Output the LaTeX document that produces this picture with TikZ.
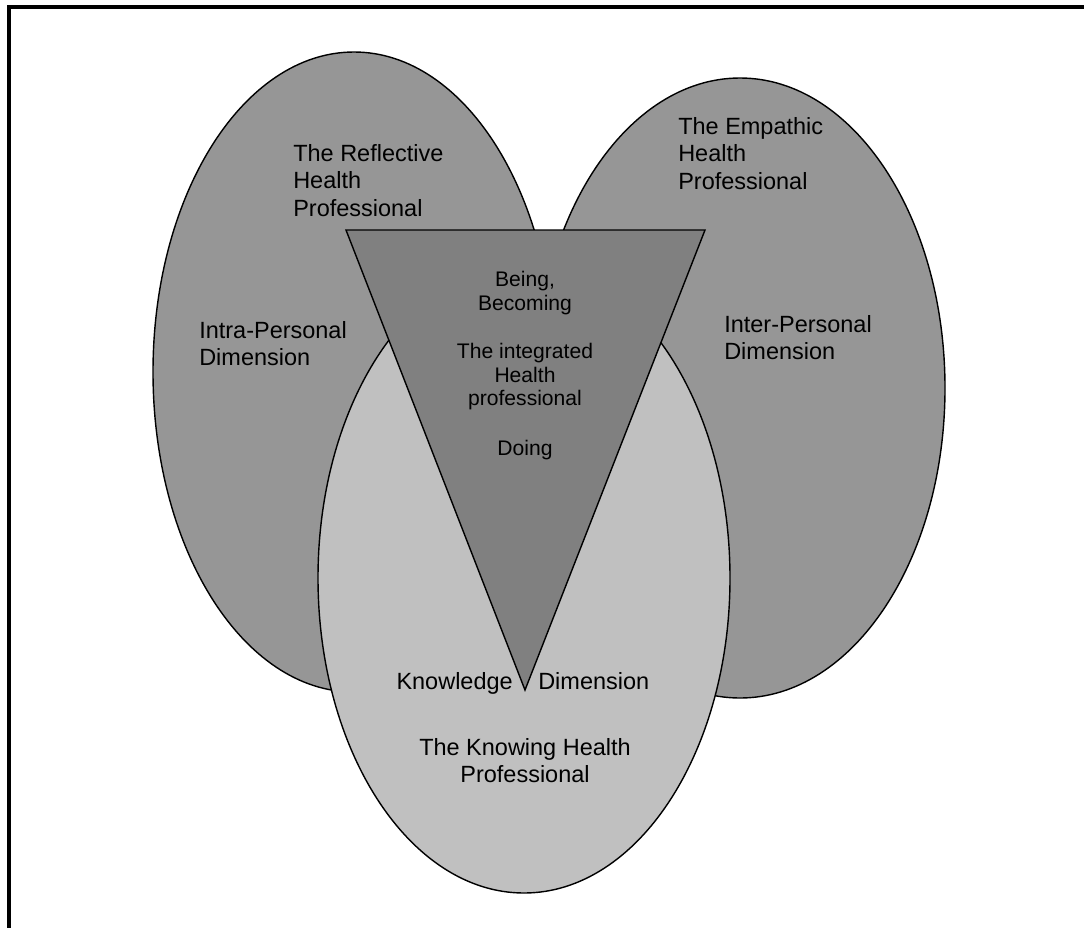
\documentclass[tikz,border=0pt]{standalone}
\usepackage{fontspec}
\setmainfont{Liberation Sans}
\usepackage{tikz}

\definecolor{outergray}{RGB}{150,150,150}
\definecolor{knowgray}{RGB}{192,192,192}
\definecolor{coregray}{RGB}{128,128,128}

\begin{document}
\begin{tikzpicture}[x = 0.025cm, y = -0.025cm,
		region/.style = {draw = black, line width = 1pt},
		biglabel/.style = {inner sep = 0, font = \fontsize{16.7}{19.6}\selectfont},
		smalllabel/.style = {inner sep = 0, align = center, font = \fontsize{15}{16.8}\selectfont}]
				\useasboundingbox (0,0) rectangle (1084,928);
				\draw [line width = 0.1cm] (1084,7) -- (9,7) -- (9,928);
				% the three dimensions
				\coordinate (intra) at (354,372);
				\coordinate (inter) at (740,388);
				\coordinate (know) at (524,578);
				\draw [region, fill = outergray] (intra) ellipse [x radius = 201, y radius = 320];
				\draw [region, fill = outergray] (inter) ellipse [x radius = 205, y radius = 310];
				\draw [region, fill = knowgray] (know) ellipse [x radius = 206, y radius = 315];
				\draw [region, fill = coregray] (346,230) -- (705,230) -- (525,690) -- cycle;
				\node [biglabel, align = left, anchor = north west] (reflective) at (293,144) {The Reflective\\Health\\Professional};
				\node [biglabel, align = left, anchor = north west] (empathic) at (678,117) {The Empathic\\Health\\Professional};
				\node [biglabel, align = left, anchor = north west] (intralabel) at (199,321) {Intra-Personal\\Dimension};
				\node [biglabel, align = left, anchor = north west] (interlabel) at (724,315) {Inter-Personal\\Dimension};
				\node [biglabel, anchor = base east] (knowledge) at (513,689) {Knowledge};
				\node [biglabel, anchor = base west] (dimension) at (538,689) {Dimension};
				\node [biglabel, align = center, anchor = north] (knowing) at (525,738) {The Knowing Health\\Professional};
				\node [smalllabel, anchor = north] (being) at (525,271) {Being,\\Becoming};
				\node [smalllabel, anchor = north] (integrated) at (525,343) {The integrated\\Health\\professional};
				\node [smalllabel, anchor = base] (doing) at (525,455) {Doing};
		\end{tikzpicture}
\end{document}
